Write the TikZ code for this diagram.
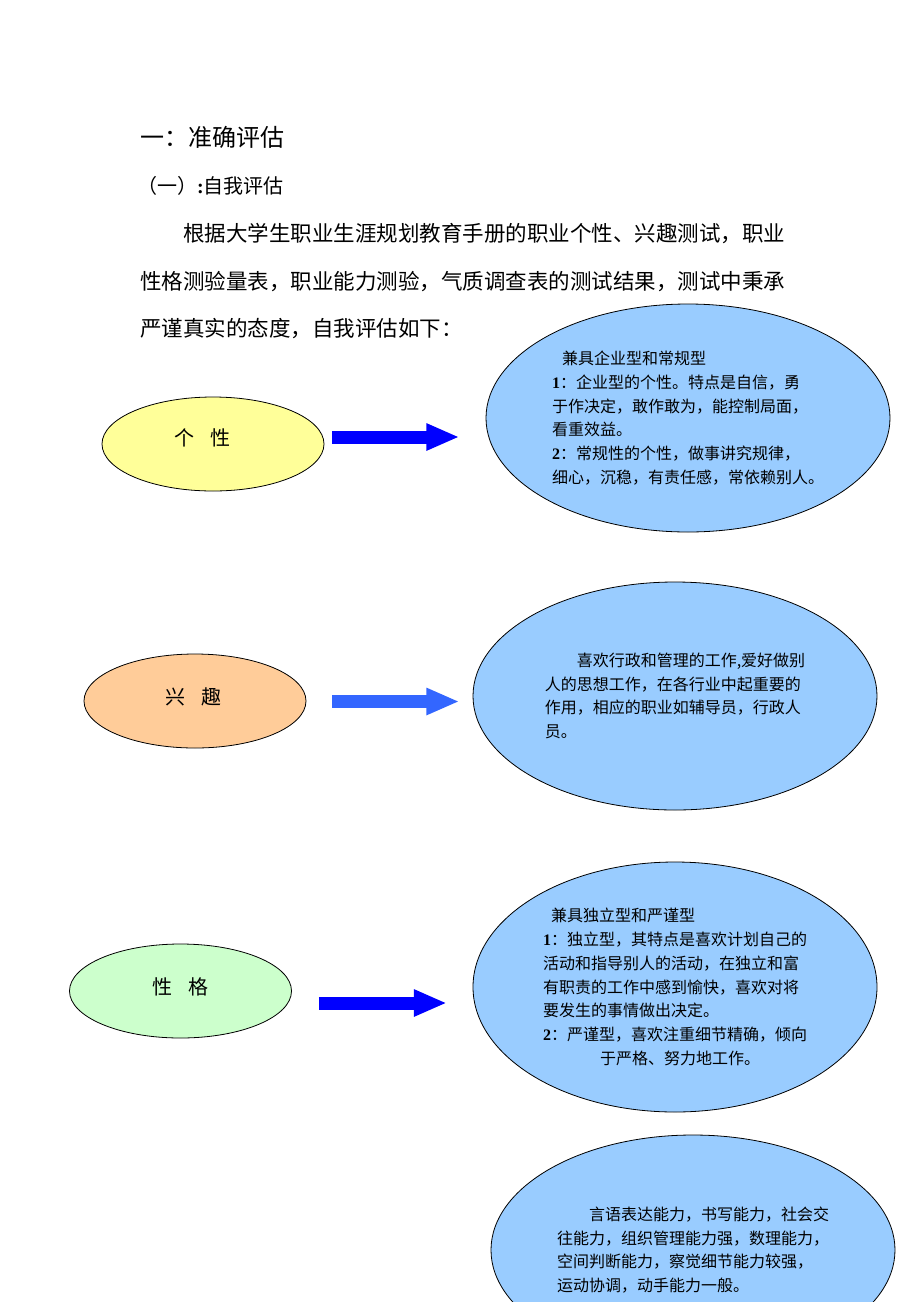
\documentclass[tikz,border=0pt]{standalone}
\usepackage{fontspec}
\setmainfont{Liberation Serif}
\newfontfamily\cjk{Noto Sans CJK SC}
\usetikzlibrary{arrows.meta, shapes.geometric}

\definecolor{tagyellow}{HTML}{FFFF99}
\definecolor{tagorange}{HTML}{FFCC99}
\definecolor{taggreen}{HTML}{CCFFCC}
\definecolor{resultblue}{HTML}{99CCFF}
\definecolor{arrowlight}{HTML}{3366FF}

\newcommand{\bnum}[1]{{\rmfamily\bfseries #1}}

\begin{document}
\begin{tikzpicture}[x=1pt, y=-1pt,
    para/.style={anchor=base west, inner sep=0pt, font=\cjk\fontsize{21.5}{21.5}\selectfont},
    tag/.style={ellipse, draw=black, line width=0.8pt, minimum width=222pt, minimum height=94pt, inner sep=0pt},
    tagtext/.style={inner sep=0pt, font=\cjk\fontsize{20}{20}\selectfont},
    result/.style={ellipse, draw=black, line width=0.8pt, fill=resultblue, minimum width=404pt,
        inner sep=0pt, align=left, font=\cjk\fontsize{16}{23.8}\selectfont},
    bigarrow/.style={line width=13pt, -{Triangle[length=33pt 0, width=25pt 0]}}]
    \useasboundingbox (0,0) rectangle (920,1302);

    % heading and intro
    \node[para, font=\cjk\fontsize{24}{24}\selectfont] (title) at (140,146) {一：准确评估};
    \node[para, font=\cjk\fontsize{20}{20}\selectfont] (subtitle) at (137,193) {（一）\bnum{:}自我评估};
    \node[para] (line1) at (140,241) {\hspace*{2em}根据大学生职业生涯规划教育手册的职业个性、兴趣测试，职业};
    \node[para] (line2) at (140,289) {性格测验量表，职业能力测验，气质调查表的测试结果，测试中秉承};
    \node[para] (line3) at (140,336) {严谨真实的态度，自我评估如下：};

    % left ellipses
    \node[tag, fill=tagyellow] (gexing) at (213,444) {};
    \node[tagtext] (gexingtext) at ([shift={(-11,-6)}]gexing.center) {个\hspace{0.8em}性};
    \node[tag, fill=tagorange] (xingqu) at (195,701) {};
    \node[tagtext] (xingqutext) at ([shift={(-1.5,-4)}]xingqu.center) {兴\hspace{0.8em}趣};
    \node[tag, fill=taggreen] (xingge) at (180.5,991) {};
    \node[tagtext] (xinggetext) at ([shift={(0,-4)}]xingge.center) {性\hspace{0.8em}格};

    % right ellipses
    \node[result, minimum height=228pt] (gexingres) at (688,418) {%
        \hspace*{10pt}兼具企业型和常规型\\
        \bnum{1}：企业型的个性。特点是自信，勇\\
        于作决定，敢作敢为，能控制局面，\\
        看重效益。\\
        \bnum{2}：常规性的个性，做事讲究规律，\\
        细心，沉稳，有责任感，常依赖别人。};
    \node[result, minimum height=228pt] (xingqures) at (675,696) {%
        \hspace*{2em}喜欢行政和管理的工作,爱好做别\\
        人的思想工作，在各行业中起重要的\\
        作用，相应的职业如辅导员，行政人\\
        员。};
    \node[result, minimum height=250pt] (xinggeres) at (675,987) {%
        \hspace*{8pt}兼具独立型和严谨型\\
        \bnum{1}：独立型，其特点是喜欢计划自己的\\
        活动和指导别人的活动，在独立和富\\
        有职责的工作中感到愉快，喜欢对将\\
        要发生的事情做出决定。\\
        \bnum{2}：严谨型，喜欢注重细节精确，倾向\\
        \hspace*{57pt}于严格、努力地工作。};
    \node[result, minimum height=230pt] (nengli) at (693,1250) {%
        \hspace*{2em}言语表达能力，书写能力，社会交\\
        往能力，组织管理能力强，数理能力，\\
        空间判断能力，察觉细节能力较强，\\
        运动协调，动手能力一般。};

    % arrows
    \draw[bigarrow, blue] ([shift={(8,-7)}]gexing.east) -- ++(127,0);
    \draw[bigarrow, arrowlight] ([shift={(26,0.5)}]xingqu.east) -- ++(127,0);
    \draw[bigarrow, blue] ([shift={(27,12)}]xingge.east) -- ++(128,0);
\end{tikzpicture}
\end{document}
